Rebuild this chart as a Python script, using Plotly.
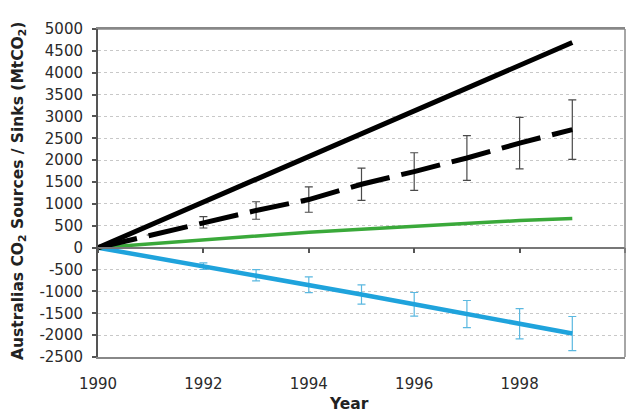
import plotly.graph_objects as go

years = [1990, 1991, 1992, 1993, 1994, 1995, 1996, 1997, 1998, 1999]
total_sources = [0, 520, 1040, 1560, 2085, 2605, 3125, 3645, 4165, 4690]
net_dashed = [0, 290, 580, 850, 1100, 1450, 1740, 2050, 2390, 2700]
net_dashed_err = [0, 0, 130, 200, 290, 370, 430, 510, 590, 680]
green_series = [0, 90, 180, 270, 355, 420, 490, 555, 620, 668]
sinks = [0, -212, -424, -630, -848, -1070, -1295, -1518, -1741, -1964]
sinks_err = [0, 0, 75, 130, 180, 220, 270, 310, 345, 390]

x_ticks = [1990, 1992, 1994, 1996, 1998, 2000]
y_ticks = list(range(-2500, 5001, 500))

FONT = "DejaVu Sans"

fig = go.Figure()

fig.add_trace(go.Scatter(
    x=years, y=sinks, mode="lines",
    line=dict(color="#1fa3dc", width=4.5),
    error_y=dict(type="data", array=sinks_err, visible=True,
                 color="#5bb8e0", thickness=1.2, width=4),
    showlegend=False))

fig.add_trace(go.Scatter(
    x=years, y=green_series, mode="lines",
    line=dict(color="#3aa93a", width=3.5),
    showlegend=False))

fig.add_trace(go.Scatter(
    x=years, y=net_dashed, mode="lines",
    line=dict(color="#000000", width=5, dash="40px,12px"),
    error_y=dict(type="data", array=net_dashed_err, visible=True,
                 color="#4a4a4a", thickness=1.2, width=4),
    showlegend=False))

fig.add_trace(go.Scatter(
    x=years, y=total_sources, mode="lines",
    line=dict(color="#000000", width=5),
    showlegend=False))

# invisible trace to keep the zero-crossing axis alive
fig.add_trace(go.Scatter(
    x=x_ticks, y=[0] * len(x_ticks), xaxis="x2", mode="markers",
    marker=dict(opacity=0), hoverinfo="skip", showlegend=False))

fig.update_layout(
    width=631, height=407,
    margin=dict(l=90, r=14, t=13, b=58),
    paper_bgcolor="white", plot_bgcolor="white",
    font=dict(family=FONT, size=15, color="#333333"),
    xaxis=dict(
        range=[1990, 2000], tickvals=x_ticks, ticktext=[str(v) for v in x_ticks],
        showgrid=False, zeroline=False,
        showline=True, linecolor="#888888", linewidth=1.5, mirror=True,
        ticks="", ticklabelstandoff=12,
        tickfont=dict(family=FONT, size=15, color="#2a2a2a"),
    ),
    xaxis2=dict(
        range=[1990, 2000], tickvals=x_ticks, overlaying="x",
        anchor="free", position=1 / 3,
        showgrid=False, zeroline=False, showticklabels=False,
        showline=True, linecolor="#777777", linewidth=1.5,
        ticks="outside", ticklen=5, tickcolor="#555555", tickwidth=1.5,
    ),
    yaxis=dict(
        range=[-2500, 5000], tickvals=y_ticks, ticktext=[str(v) for v in y_ticks],
        showgrid=True, gridcolor="#c8c8c8", griddash="dot", gridwidth=1,
        zeroline=False,
        showline=True, linecolor="#555555", linewidth=2, mirror=False,
        ticks="outside", ticklen=4, tickcolor="#555555", tickwidth=1.5,
        ticklabelstandoff=6,
        tickfont=dict(family=FONT, size=15, color="#2a2a2a"),
    ),
    shapes=[dict(type="line", xref="paper", yref="paper", x0=1, x1=1, y0=0, y1=1,
                 line=dict(color="#888888", width=1.5)),
            dict(type="line", xref="paper", yref="paper", x0=0, x1=1, y0=1, y1=1,
                 line=dict(color="#888888", width=1.5))],
    annotations=[
        dict(text="<b>Year</b>", xref="paper", yref="paper",
             x=0.476, y=0, yshift=-47, yanchor="middle", showarrow=False,
             font=dict(family=FONT, size=15.5, color="#222222")),
        dict(text="<b>Australias CO<sub>2</sub> Sources / Sinks (MtCO<sub>2</sub>)</b>",
             xref="paper", yref="paper", x=-0.150, y=0.506, textangle=-90,
             xanchor="center", yanchor="middle", showarrow=False,
             font=dict(family=FONT, size=15.5, color="#222222")),
    ],
)

fig.write_html("out.html")
